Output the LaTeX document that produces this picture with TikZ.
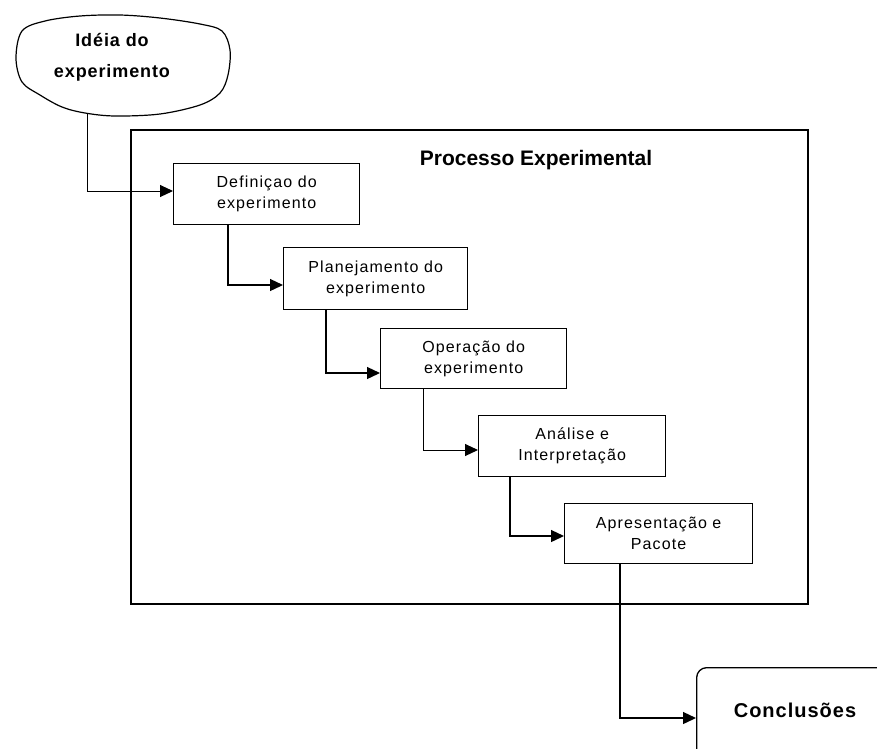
\documentclass[tikz,border=0pt]{standalone}
\usepackage{fontspec}
\setmainfont{Liberation Sans}
\newfontfamily\boxfont[LetterSpace=7]{Liberation Sans}
\newfontfamily\headfont[LetterSpace=5]{Liberation Sans}
\usetikzlibrary{arrows.meta,calc}
\begin{document}
\begin{tikzpicture}[x=1pt,y=-1pt,
  stepbox/.style={draw, line width=1.3pt, anchor=north west, align=center,
    inner sep=0pt, font=\boxfont\fontsize{16}{21}\selectfont},
  conn/.style={line width=1.3pt, -{Triangle[length=13pt,width=12pt]}},
]
\useasboundingbox (0,0) rectangle (877,748);
\clip (0,0) rectangle (877,748);

% idea cloud
\draw[line width=1.2pt] plot[smooth cycle, tension=0.55] coordinates {
  (22,31) (45,21) (80,16) (120,15) (160,18) (200,24) (222,31)
  (230,50) (228,75) (220,93) (200,105) (160,114) (115,116)
  (85,113) (62,107) (40,95) (22,82) (16,58)};
\node[font=\headfont\bfseries\fontsize{18}{31}\selectfont, align=center] (idea) at (112,57)
  {Idéia do\\experimento};
\coordinate (ideafoot) at (87,113);

% process frame
\node[draw, line width=1.5pt, anchor=north west, minimum width=677pt,
  minimum height=474pt, inner sep=0pt] (frame) at (130,129) {};
\node[font=\bfseries\fontsize{21}{25}\selectfont] (title) at (536,160)
  {Processo Experimental};

% process steps
\node[stepbox, minimum width=186pt, minimum height=61pt] (box1) at (173,163)
  {Definiçao do\\experimento};
\node[stepbox, minimum width=184pt, minimum height=62pt] (box2) at (283,247)
  {Planejamento do\\experimento};
\node[stepbox, minimum width=186pt, minimum height=60pt] (box3) at (380,328)
  {Operação do\\experimento};
\node[stepbox, minimum width=187pt, minimum height=61pt] (box4) at (478,415)
  {Análise e\\Interpretação};
\node[stepbox, minimum width=188pt, minimum height=60pt] (box5) at (564,503)
  {Apresentação e\\Pacote};

% conclusions
\node[draw, line width=1.3pt, rounded corners=10pt, anchor=north west,
  minimum width=300pt, minimum height=150pt] (concl) at (696,667) {};
\node[font=\headfont\bfseries\fontsize{20}{24}\selectfont] (concltext) at (795,710)
  {Conclusões};

% connectors
\draw[conn, line width=1pt] (ideafoot) |- (box1.west |- 0,191);
\draw[conn] (box1.south -| 228,0) |- (box2.west |- 0,285);
\draw[conn] (box2.south -| 326,0) |- (box3.west |- 0,373);
\draw[conn, line width=1pt] (box3.south -| 423,0) |- (box4.west |- 0,450);
\draw[conn] (box4.south -| 510,0) |- (box5.west |- 0,536);
\draw[conn] (box5.south -| 620,0) |- (concl.west |- 0,718);
\end{tikzpicture}
\end{document}
